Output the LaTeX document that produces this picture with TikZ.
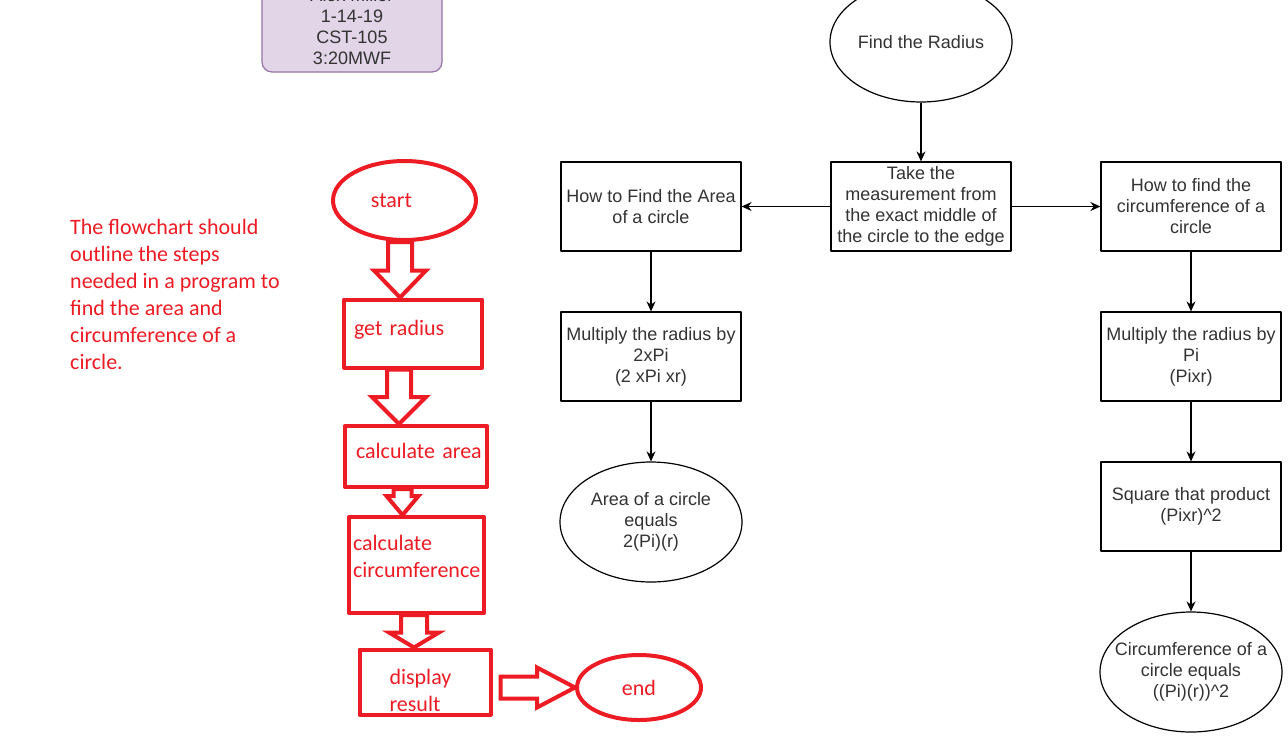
\documentclass[tikz,border=0pt]{standalone}
\usepackage{fontspec}
\setmainfont{Liberation Sans}
\newfontfamily\paintfont{Carlito}
\usetikzlibrary{shapes.geometric,arrows.meta}
\definecolor{paintred}{HTML}{ED1C24}
\definecolor{lilacfill}{HTML}{E1D5E7}
\definecolor{lilacline}{HTML}{9673A6}
\tikzset{
  stepbox/.style={draw, line width=1.2pt, minimum width=180, minimum height=89, align=center, inner sep=2},
  oval/.style={draw, ellipse, line width=1.2pt, minimum width=182, minimum height=120, inner xsep=-14, inner ysep=0, align=center},
  redbox/.style={draw=paintred, line width=4pt, align=left, text=paintred, font=\paintfont\fontsize{22}{27}\selectfont, inner ysep=0},
  redoval/.style={redbox, ellipse, align=center, inner sep=0},
  hollow/.style={draw=paintred, fill=white, line width=4pt, line join=miter},
}
% hollow block arrows: from, to, tip shift, shaft half width, head half width, head length
\newcommand\blockdown[6]{%
  \coordinate (bt) at ([xshift=#3]#2);
  \coordinate (bs) at (bt |- #1);
  \draw[hollow] ([xshift=-#4]bs) -- ([xshift=-#4,yshift=#6]bt) -- ([xshift=-#5,yshift=#6]bt) -- (bt)
    -- ([xshift=#5,yshift=#6]bt) -- ([xshift=#4,yshift=#6]bt) -- ([xshift=#4]bs) -- cycle;
}
\newcommand\blockright[6]{%
  \coordinate (bt) at (#2);
  \coordinate (bs) at (bt -| #1);
  \draw[hollow] ([xshift=#3,yshift=#4]bs) -- ([xshift=-#6,yshift=#4]bt) -- ([xshift=-#6,yshift=#5]bt) -- (bt)
    -- ([xshift=-#6,yshift=-#5]bt) -- ([xshift=-#6,yshift=-#4]bt) -- ([xshift=#3,yshift=-#4]bs) -- cycle;
}
\begin{document}
\begin{tikzpicture}[x=1pt, y=-1pt, font=\fontsize{18}{21}\selectfont, text=black!80, line join=round, >={Stealth[length=10pt,width=9pt]}]
  \clip (0,0) rectangle (1288,737);
  \fill[white] (0,0) rectangle (1288,737);

  % name card
  \node[draw=lilacline, fill=lilacfill, line width=1.2pt, rounded corners=10, minimum width=180, minimum height=90, align=center, inner sep=0]
    (card) at (352,27) {Alex Miller\\1-14-19\\CST-105\\3:20MWF};

  % note
  \node[anchor=north west, align=left, text=paintred, font=\paintfont\fontsize{22}{27}\selectfont, inner sep=0] (note) at (70,219)
    {The flowchart should\\outline the steps\\needed in a program to\\find the area and\\circumference of a\\circle.};

  % red flowchart
  \node[redoval, minimum width=143, minimum height=79] (start) at (404.5,200.5) {start\hspace*{26pt}};
  \node[redbox, minimum width=138, minimum height=68, inner xsep=10, text width=118, text depth=11] (radius) at (413,333.5) {get radius};
  \node[redbox, minimum width=142, minimum height=61, inner xsep=11, text width=120, text depth=11] (calcarea) at (416,456.5) {calculate~area};
  \node[redbox, minimum width=135, minimum height=96, inner xsep=4, text width=127] (calccirc) at (416.5,565) {calculate\\circumference\rule[-17pt]{0pt}{1pt}};
  \node[redbox, minimum width=131, minimum height=65, inner xsep=30, text width=71] (display) at (425,682) {\rule{0pt}{32pt}display\\result};
  \node[redoval, minimum width=124, minimum height=65] (finish) at (639,687.5) {end};

  \blockdown{start.south}{radius.north}{-13}{12}{26}{27}
  \blockdown{radius.south}{calcarea.north}{-17}{12}{27}{27}
  \blockdown{calcarea.south}{calccirc.north}{-14}{9}{16}{19}
  \blockdown{calccirc.south}{display.north}{-11}{13}{25}{15}
  \blockright{display.east}{finish.west}{8}{11}{20}{38}

  % black flowchart
  \node[oval] (find) at (921,42) {Find the Radius};
  \node[stepbox] (measure) at (921,206.5) {Take the\\measurement from\\the exact middle of\\the circle to the edge};
  \node[stepbox] (areahow) at (651,206.5) {How to Find the Area\\of a circle};
  \node[stepbox] (areamult) at (651,356.5) {Multiply the radius by\\2xPi\\(2 xPi xr)};
  \node[oval] (arearesult) at (651,522) {Area of a circle\\equals\\2(Pi)(r)};
  \node[stepbox] (circhow) at (1191,206.5) {How to find the\\circumference of a\\circle};
  \node[stepbox] (circmult) at (1191,356.5) {Multiply the radius by\\Pi\\(Pixr)};
  \node[stepbox] (square) at (1191,506.5) {Square that product\\(Pixr)\^{}2};
  \node[oval] (circresult) at (1191,672) {Circumference of a\\circle equals\\((Pi)(r))\^{}2};

  \foreach \a/\b in {find/measure, measure/areahow, measure/circhow, areahow/areamult, areamult/arearesult,
                     circhow/circmult, circmult/square, square/circresult}
    \draw[->, line width=1.2pt] (\a) -- (\b);
\end{tikzpicture}
\end{document}
